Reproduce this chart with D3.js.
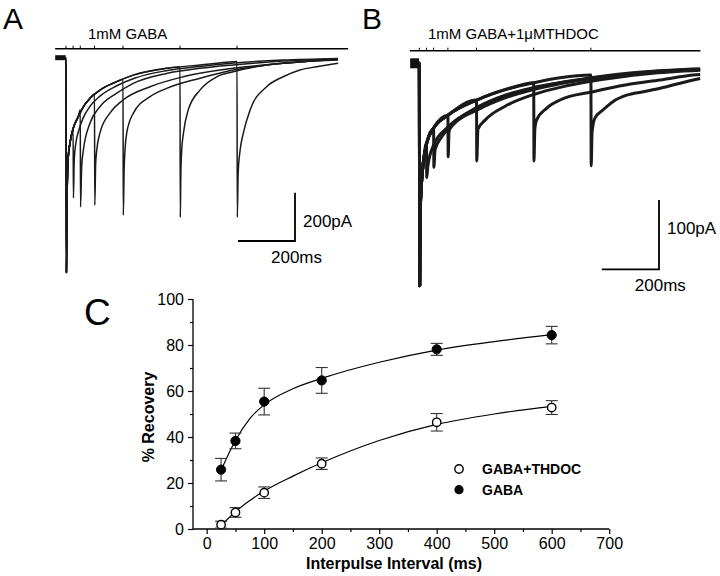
<!DOCTYPE html>
<html><head><meta charset="utf-8">
<script src="https://cdn.jsdelivr.net/npm/d3@7/dist/d3.min.js"></script>
<style>
html,body{margin:0;padding:0;background:#fff;}
svg{display:block;font-family:"Liberation Sans",Arial,sans-serif;}
</style></head>
<body>
<svg id="chart" width="720" height="576"></svg>
<script>
// ---------- Panel C data ----------
const intervals = [25, 50, 100, 200, 400, 600];
const gabaMean = [25.8, 38.3, 55.4, 64.6, 78.1, 84.3];
const gabaErr = [4.9, 3.4, 5.8, 5.6, 2.6, 3.8];
const thdocMean = [1.9, 7.2, 15.8, 28.4, 46.4, 52.8];
const thdocErr = [1.5, 2.1, 2.5, 2.5, 3.8, 3.0];
const fitX = [25, 35, 50, 75, 100, 150, 200, 300, 400, 500, 600];
const gabaFit = [25.5, 31, 38.5, 48, 54, 61, 65.5, 72.5, 77.8, 81.5, 84.5];
const thdocFitX = [25, 50, 100, 150, 200, 300, 400, 500, 600];
const thdocFit = [1.5, 7.5, 16.5, 23, 28.8, 38.5, 45.5, 50, 53.3];
const xTicks = [0, 100, 200, 300, 400, 500, 600, 700];
const yTicks = [0, 20, 40, 60, 80, 100];
const legendLabels = ["GABA+THDOC", "GABA"];

// ---------- Panel A traces (time ms, current pA) ----------
const pulseTimes = [25, 50, 100, 200, 400, 600];
const baselineA = [[-38, 0], [-1, 0]];
const envA = [[-1,0],[0,0],[1.5,-889],[4,-560],[8,-410],[14,-353],[25.6,-291],[43,-244],[60.7,-203],[84,-168],[119,-134],[178,-99],[236,-72],[353,-44],[470,-30],[586,-17],[761,-7],[954,-2.5]];
const recA25 = [[25,-295],[26,-580],[29,-420],[35,-350],[45,-300],[60,-250],[85,-200],[120,-158],[180,-115],[240,-85],[350,-54],[470,-36],[590,-22],[760,-10],[954,-3]];
const recA50 = [[50,-215],[51,-618],[55,-450],[61,-382],[84,-271],[119,-203],[178,-147],[236,-106],[353,-65],[470,-44],[586,-30],[761,-14],[954,-4]];
const recA100 = [[100,-150],[101,-610],[104,-440],[108,-382],[119,-312],[154,-229],[200,-175],[295,-120],[411,-79],[586,-44],[761,-23],[954,-5]];
const recA200 = [[200,-89],[201,-652],[204,-460],[207,-382],[213,-312],[236,-230],[295,-161],[353,-127],[470,-85],[587,-51],[762,-23],[954,-7]];
const recA400 = [[400,-38],[401,-660],[403,-480],[406,-382],[412,-313],[429,-216],[470,-134],[529,-79],[587,-58],[704,-30],[821,-17],[954,-10]];
const recA600 = [[600,-16],[601,-660],[604,-480],[611,-382],[622,-313],[646,-216],[704,-120],[762,-79],[821,-51],[880,-37],[955,-23]];

// ---------- Panel B traces ----------
const baselineB = [[-32, 0], [-1, 0]];
const envB = [[-1,0],[0,0],[1.5,-321],[3,-220],[6,-185],[10,-160],[15,-140],[26,-115],[48,-95],[100,-75],[201,-53],[317,-36],[401,-28],[492,-21],[600,-17],[725,-10],[842,-7],[982,-6]];
const recB25 = [[25,-115],[26,-165],[30,-148],[50,-118],[100,-92],[200,-64],[300,-46],[400,-35],[600,-22],[800,-13],[982,-9]];
const recB50 = [[50,-95],[51,-150],[55,-125],[75,-108],[100,-95],[200,-66],[300,-48],[400,-36],[600,-21],[800,-12],[982,-8]];
const recB100 = [[100,-75],[101,-135],[104,-98],[120,-88],[200,-68],[300,-50],[400,-38],[500,-29],[600,-22],[800,-13],[982,-9]];
const recB200 = [[200,-53],[201,-141],[205,-95],[230,-82],[300,-62],[400,-45],[500,-34],[600,-26],[800,-15],[982,-10]];
const recB400 = [[400,-28],[401,-141],[404,-95],[410,-82],[445,-65],[492,-53],[608,-41],[725,-31],[842,-24],[957,-17],[982,-16]];
const recB600 = [[600,-17],[601,-148],[604,-100],[614,-79],[643,-67],[678,-55],[725,-46],[783,-41],[842,-36],[958,-24],[982,-22]];

const svg = d3.select("#chart");
svg.append("rect").attr("width",720).attr("height",576).attr("fill","#fff");

// ---------- Panel helper ----------
function drawTraces(cfg){
  const g = svg.append("g");
  const x = cfg.x, y = cfg.y;
  // stimulus bar
  g.append("line").attr("x1",x(cfg.barStart)).attr("x2",x(cfg.barEnd))
    .attr("y1",cfg.barY).attr("y2",cfg.barY).attr("stroke","#000").attr("stroke-width",1.6);
  g.selectAll(".ptick").data([0].concat(pulseTimes)).enter().append("line")
    .attr("x1",d=>x(d)).attr("x2",d=>x(d)).attr("y1",cfg.barY).attr("y2",cfg.barY-3)
    .attr("stroke","#000").attr("stroke-width",1);
  g.append("text").attr("x",cfg.labelX).attr("y",cfg.labelY).attr("font-size",15).text(cfg.label);
  // baseline blob
  g.append("path").datum(cfg.baseline)
    .attr("d",d3.line().x(d=>x(d[0])).y(d=>y(d[1])))
    .attr("stroke","#111").attr("stroke-width",cfg.blob).attr("fill","none");
  const line = d3.line().x(d=>x(d[0])).y(d=>y(d[1])).curve(d3.curveMonotoneX);
  cfg.recs.forEach((rec,i)=>{
    const T = rec[0][0];
    const pts = cfg.env.filter(p=>p[0] < T).concat(rec);
    g.append("path").datum(pts).attr("d",line)
      .attr("stroke","#1a1a1a").attr("stroke-width",cfg.sw).attr("fill","none")
      .attr("stroke-linejoin","round");
  });
  // scale bars
  const cx = cfg.sbX, cy = cfg.sbY;
  const dx = x(200) - x(0);
  const dy = y(-cfg.sbPA) - y(0);
  g.append("path").attr("d",`M${cx-dx},${cy}H${cx}V${cy-dy}`)
    .attr("stroke","#000").attr("stroke-width",1.8).attr("fill","none");
  g.append("text").attr("x",cx+8).attr("y",cfg.paY).attr("font-size",17).text(cfg.sbPA+"pA");
  g.append("text").attr("x",cx-dx+33).attr("y",cy+22).attr("font-size",17).text("200ms");
}

const xA = d3.scaleLinear().domain([0,1000]).range([66,351]);
const yA = d3.scaleLinear().domain([0,-1000]).range([57.7,299.4]);
drawTraces({x:xA,y:yA,barStart:-38,barEnd:990,barY:48.7,label:"1mM GABA",labelX:88,labelY:39,
  baseline:baselineA,env:envA,recs:[recA25,recA50,recA100,recA200,recA400,recA600],
  sw:1.5,blob:5,sbX:295,sbY:241,sbPA:200,paY:227});

const xB = d3.scaleLinear().domain([0,1000]).range([419.3,705.3]);
const yB = d3.scaleLinear().domain([0,-400]).range([63.3,340.5]);
drawTraces({x:xB,y:yB,barStart:-33,barEnd:983,barY:50.7,label:"1mM GABA+1\u03bcMTHDOC",labelX:428,labelY:38.5,
  baseline:baselineB,env:envB,recs:[recB25,recB50,recB100,recB200,recB400,recB600],
  sw:3,blob:10,sbX:659,sbY:269.3,sbPA:100,paY:234});

// panel letters
svg.append("text").attr("x",3).attr("y",28.5).attr("font-size",30).text("A");
svg.append("text").attr("x",362).attr("y",28.5).attr("font-size",30).text("B");
svg.append("text").attr("x",84).attr("y",325).attr("font-size",37).text("C");

// ---------- Panel C ----------
const x = d3.scaleLinear().domain([0,700]).range([206.7,609.2]);
const y = d3.scaleLinear().domain([0,100]).range([529,299]);
const gC = svg.append("g");
// axes
const gx = gC.append("g").attr("transform","translate(0,529)")
  .call(d3.axisBottom(x).tickValues(xTicks).tickSize(5).tickSizeOuter(0).tickPadding(4).tickFormat(d3.format("d")));
gx.select(".domain").remove();
gC.append("g").attr("transform","translate(0,529)")
  .call(d3.axisBottom(x).tickValues(d3.range(50,700,100)).tickSize(3).tickFormat(""))
  .select(".domain").remove();
gC.append("line").attr("x1",193).attr("x2",609.2).attr("y1",529).attr("y2",529).attr("stroke","#000").attr("stroke-width",1.3);
const gy = gC.append("g").attr("transform","translate(193,0)")
  .call(d3.axisLeft(y).tickValues(yTicks).tickSize(5).tickSizeOuter(0).tickPadding(4));
gy.select(".domain").remove();
gC.append("g").attr("transform","translate(193,0)")
  .call(d3.axisLeft(y).tickValues(d3.range(10,100,20)).tickSize(3).tickFormat(""))
  .select(".domain").remove();
gC.append("line").attr("x1",193).attr("x2",193).attr("y1",299).attr("y2",529).attr("stroke","#000").attr("stroke-width",1.3);
gC.selectAll(".tick line").attr("stroke","#000").attr("stroke-width",1.2);
gC.selectAll(".tick text").attr("font-size",16).attr("font-family","Liberation Sans, Arial, sans-serif").attr("fill","#000");

gC.append("text").attr("transform","translate(154,417) rotate(-90)").attr("text-anchor","middle")
  .attr("font-size",16).attr("font-weight","bold").text("% Recovery");
gC.append("text").attr("x",394).attr("y",569).attr("text-anchor","middle")
  .attr("font-size",16).attr("font-weight","bold").text("Interpulse Interval (ms)");

// fit curves
const fitLine = d3.line().x(d=>x(d[0])).y(d=>y(d[1])).curve(d3.curveMonotoneX);
gC.append("path").datum(fitX.map((v,i)=>[v,gabaFit[i]])).attr("d",fitLine)
  .attr("fill","none").attr("stroke","#000").attr("stroke-width",1.2);
gC.append("path").datum(thdocFitX.map((v,i)=>[v,thdocFit[i]])).attr("d",fitLine)
  .attr("fill","none").attr("stroke","#000").attr("stroke-width",1.2);

function series(means, errs, filled){
  const data = intervals.map((v,i)=>({x:v,m:means[i],e:errs[i]}));
  const g = gC.append("g");
  const eb = g.selectAll(".eb").data(data).enter().append("g");
  eb.append("line").attr("x1",d=>x(d.x)).attr("x2",d=>x(d.x)).attr("y1",d=>y(d.m-d.e)).attr("y2",d=>y(d.m+d.e))
    .attr("stroke","#333").attr("stroke-width",1.1);
  [1,-1].forEach(s=>{
    eb.append("line").attr("x1",d=>x(d.x)-6).attr("x2",d=>x(d.x)+6)
      .attr("y1",d=>y(d.m+s*d.e)).attr("y2",d=>y(d.m+s*d.e)).attr("stroke","#333").attr("stroke-width",1.1);
  });
  g.selectAll(".pt").data(data).enter().append("circle")
    .attr("cx",d=>x(d.x)).attr("cy",d=>y(d.m)).attr("r",filled?4.6:4.2)
    .attr("fill",filled?"#000":"#fff").attr("stroke","#000").attr("stroke-width",filled?1:1.4);
}
series(thdocMean, thdocErr, false);
series(gabaMean, gabaErr, true);

// legend
const lg = gC.append("g");
lg.append("circle").attr("cx",459).attr("cy",469).attr("r",4.2).attr("fill","#fff").attr("stroke","#000").attr("stroke-width",1.4);
lg.append("circle").attr("cx",459).attr("cy",489.7).attr("r",4.6).attr("fill","#000");
lg.append("text").attr("x",482).attr("y",474).attr("font-size",14).attr("font-weight","bold").text(legendLabels[0]);
lg.append("text").attr("x",482).attr("y",495).attr("font-size",14).attr("font-weight","bold").text(legendLabels[1]);
</script>
</body></html>
